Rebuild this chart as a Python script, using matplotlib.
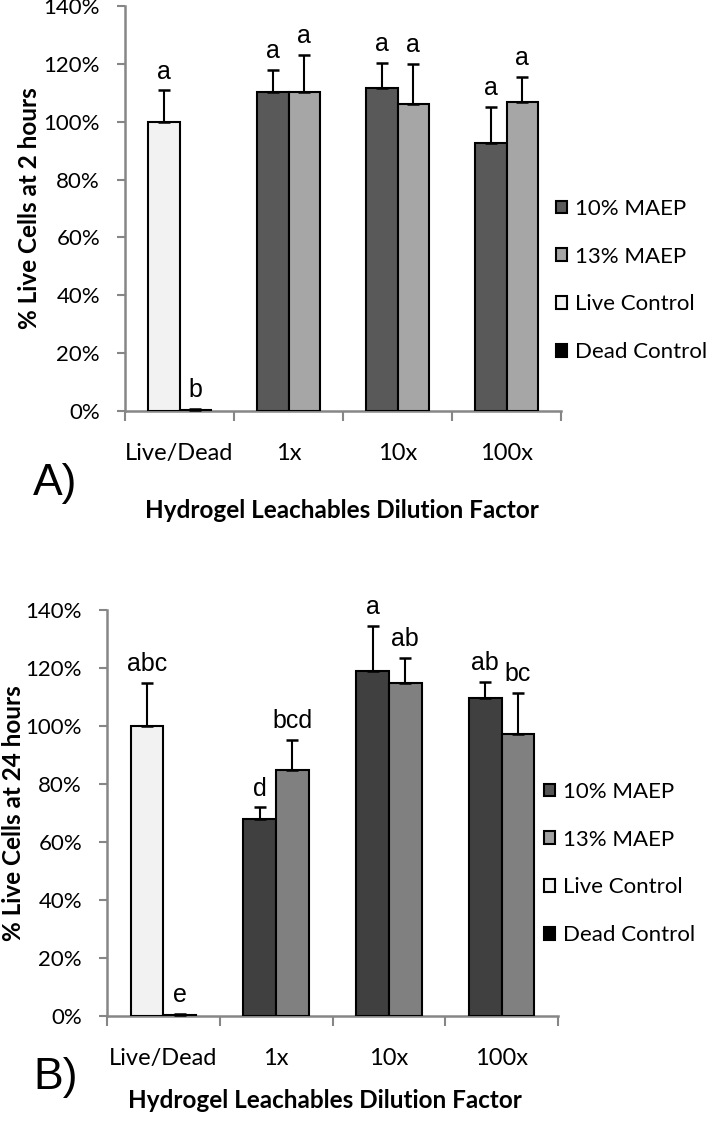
import numpy as np
import matplotlib
matplotlib.use("Agg")
import matplotlib.pyplot as plt
from matplotlib.patches import Patch
from matplotlib.ticker import FuncFormatter, MultipleLocator

categories = ["Live/Dead", "1x", "10x", "100x"]

# Panel A (2 hours): left bar of each group (Live Control / 10% MAEP), right bar (Dead Control / 13% MAEP)
a_left_vals = [1.00, 1.103, 1.115, 0.928]
a_left_err = [0.108, 0.076, 0.089, 0.123]
a_right_vals = [0.005, 1.103, 1.060, 1.069]
a_right_err = [0.003, 0.127, 0.138, 0.087]
a_left_letters = ["a", "a", "a", "a"]
a_right_letters = ["b", "a", "a", "a"]

# Panel B (24 hours)
b_left_vals = [1.00, 0.680, 1.188, 1.096]
b_left_err = [0.150, 0.039, 0.156, 0.057]
b_right_vals = [0.005, 0.848, 1.150, 0.972]
b_right_err = [0.003, 0.104, 0.084, 0.141]
b_left_letters = ["abc", "d", "a", "ab"]
b_right_letters = ["e", "bcd", "ab", "bc"]

legend_labels = ["10% MAEP", "13% MAEP", "Live Control", "Dead Control"]

FONT = "Lato"
LETTER_FONT = "Liberation Sans"
AXIS_GRAY = "#868686"

fig = plt.figure(figsize=(7.12, 11.23), dpi=100)


def draw_panel(rect, left_vals, left_err, right_vals, right_err, left_letters, right_letters,
               c10, c13, ylabel, panel_letter, panel_xy, ylabel_x, xlabel_xy, legend_anchor,
               leg10, leg13):
    ax = fig.add_axes(rect)
    x = np.arange(len(categories))
    w = 0.29
    live_c, dead_c = "#f2f2f2", "#000000"
    lcols = [live_c] + [c10] * (len(categories) - 1)
    rcols = [dead_c] + [c13] * (len(categories) - 1)
    ax.bar(x - w / 2, left_vals, w, color=lcols, edgecolor="black", linewidth=1.5, zorder=3)
    ax.bar(x + w / 2, right_vals, w, color=rcols, edgecolor="black", linewidth=1.5, zorder=3)
    for xs, vals, errs in ((x - w / 2, left_vals, left_err), (x + w / 2, right_vals, right_err)):
        ax.errorbar(xs, vals, yerr=[np.zeros(len(vals)), errs], fmt="none", ecolor="black",
                    elinewidth=1.5, capsize=4.5, capthick=1.8, zorder=4)
    for xs, vals, errs, letters in ((x - w / 2, left_vals, left_err, left_letters),
                                    (x + w / 2, right_vals, right_err, right_letters)):
        for xi, v, e, t in zip(xs, vals, errs, letters):
            ax.annotate(t, (xi, v + e), xytext=(0, 5), textcoords="offset points",
                        ha="center", va="bottom", fontsize=18, family=LETTER_FONT)
    ax.set_xlim(-0.5, len(categories) - 0.5)
    ax.set_ylim(0, 1.4)
    ax.yaxis.set_major_locator(MultipleLocator(0.2))
    ax.yaxis.set_major_formatter(FuncFormatter(lambda v, p: f"{v*100:.0f}%"))
    ax.set_xticks(x)
    ax.set_xticklabels(categories, family=FONT, fontsize=17)
    ax.set_xticks(np.arange(-0.5, len(categories), 1.0), minor=True)
    ax.tick_params(axis="x", which="major", length=0, pad=23)
    ax.tick_params(axis="x", which="minor", length=7, width=1.5, color=AXIS_GRAY, direction="out")
    ax.tick_params(axis="y", length=6, width=1.5, color=AXIS_GRAY, direction="out", pad=12)
    for lab in ax.get_yticklabels():
        lab.set_family(FONT)
        lab.set_fontsize(16)
    for s in ("top", "right"):
        ax.spines[s].set_visible(False)
    for s in ("left", "bottom"):
        ax.spines[s].set_color(AXIS_GRAY)
        ax.spines[s].set_linewidth(1.8)
    fig.text(ylabel_x, rect[1] + rect[3] * 0.5, ylabel, rotation=90, ha="center", va="center",
             fontsize=17.5, fontweight="bold", family=FONT)
    fig.text(xlabel_xy[0], xlabel_xy[1], "Hydrogel Leachables Dilution Factor",
             ha="center", va="center", fontsize=17.5, fontweight="bold", family=FONT)
    fig.text(panel_xy[0], panel_xy[1], panel_letter, ha="left", va="center", fontsize=32,
             family=LETTER_FONT)
    handles = [Patch(facecolor=c, edgecolor="black", linewidth=1.5)
               for c in (leg10, leg13, live_c, dead_c)]
    fig.legend(handles, legend_labels, loc="upper left", bbox_to_anchor=legend_anchor,
               frameon=False, prop={"family": FONT, "size": 16}, handlelength=0.5,
               handleheight=0.5, handletextpad=0.35, labelspacing=1.25, borderaxespad=0)
    return ax


draw_panel([125 / 712, 1 - 411 / 1123, 436 / 712, 405 / 1123],
           a_left_vals, a_left_err, a_right_vals, a_right_err, a_left_letters, a_right_letters,
           "#595959", "#a6a6a6", "% Live Cells at 2 hours", "A)", (33 / 712, 1 - 484 / 1123),
           30 / 712, (342 / 712, 1 - 510 / 1123), (547 / 712, 1 - 190 / 1123), "#595959", "#a6a6a6")

draw_panel([107 / 712, 1 - 1016 / 1123, 451 / 712, 406 / 1123],
           b_left_vals, b_left_err, b_right_vals, b_right_err, b_left_letters, b_right_letters,
           "#404040", "#808080", "% Live Cells at 24 hours", "B)", (33 / 712, 1 - 1078 / 1123),
           14 / 712, (325 / 712, 1 - 1101 / 1123), (535 / 712, 1 - 773 / 1123), "#555555", "#a0a0a0")

fig.savefig("out.png", dpi=100)
